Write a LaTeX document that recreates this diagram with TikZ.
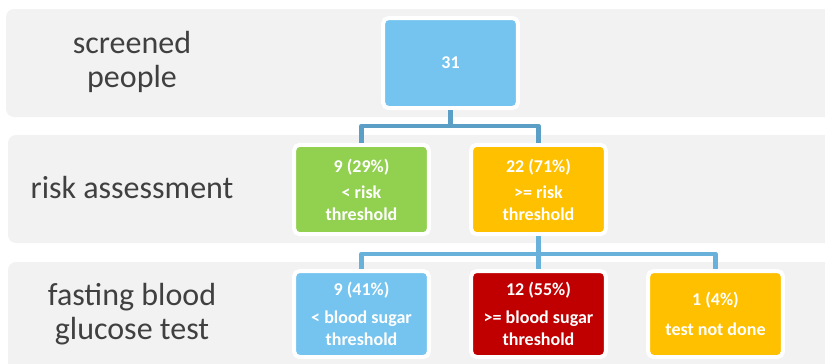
\documentclass[tikz,border=0pt]{standalone}
\usepackage{fontspec}
\setmainfont{Carlito}
\usepackage{xcolor}
\usetikzlibrary{positioning,calc}

\begin{document}
\begin{tikzpicture}[x=0.75pt, y=-0.75pt,
    band/.style={fill=bandColor, rounded corners=6pt},
    stage/.style={text=labelColor, font=\fontsize{24}{26}\selectfont, align=center},
    result/.style={draw=white, line width=3pt, rounded corners=4pt, minimum width=101pt,
        text=white, font=\bfseries\fontsize{13.5}{16}\selectfont, align=center},
    link/.style={line width=3.5pt, line join=round}]
    % Color Palette
    \definecolor{bandColor}{HTML}{F2F2F2}
    \definecolor{labelColor}{HTML}{404040}
    \definecolor{blueBox}{HTML}{74C4EF}
    \definecolor{greenBox}{HTML}{92D050}
    \definecolor{orangeBox}{HTML}{FFC000}
    \definecolor{redBox}{HTML}{C00000}
    \definecolor{linkTop}{HTML}{5B9FC6}
    \definecolor{linkBottom}{HTML}{68B1DB}

    \useasboundingbox (0,0) rectangle (825,364);
    \clip (0,0) rectangle (825,364);

    % --- Bands ---
    \fill[band] (6,9) rectangle (840,117);
    \fill[band] (8,135) rectangle (840,243);
    \fill[band] (8,262) rectangle (840,390);

    % --- Stage labels ---
    \node[stage] (lscreen) at (132,62) {screened\\people};
    \node[stage] (lrisk) at (132,188) {risk assessment};
    \node[stage] (lglucose) at (132,314) {fasting blood\\glucose test};

    % --- Boxes ---
    \node[result, fill=blueBox, minimum height=67.5pt] (screened) at (450.5,63) {31};

    \node[result, fill=greenBox, minimum height=67pt] (lowrisk) at (361.5,189.5)
        {9 (29\%)\\[4pt]< risk\\threshold};
    \node[result, fill=orangeBox, minimum height=67pt] (highrisk) at (538.5,189.5)
        {22 (71\%)\\[4pt]>= risk\\threshold};

    \node[result, fill=blueBox, minimum height=64.5pt] (lowsugar) at (361.5,314)
        {9 (41\%)\\[5pt]< blood sugar\\threshold};
    \node[result, fill=redBox, minimum height=64.5pt] (highsugar) at (538.5,314)
        {12 (55\%)\\[5pt]>= blood sugar\\threshold};
    \node[result, fill=orangeBox, minimum height=64.5pt] (notdone) at (715.5,314)
        {1 (4\%)\\[6pt]test not done};

    % Connectors
    \coordinate (split1) at (450.5,126);
    \coordinate (split2) at (538.5,254);
    \draw[link, linkTop] (screened.south) -- (split1) -| (lowrisk.north);
    \draw[link, linkTop] (split1) -| (highrisk.north);

    \draw[link, linkBottom] (highrisk.south) -- (split2) -| (lowsugar.north);
    \draw[link, linkBottom] (split2) -- (highsugar.north);
    \draw[link, linkBottom] (split2) -| (notdone.north);

\end{tikzpicture}
\end{document}
